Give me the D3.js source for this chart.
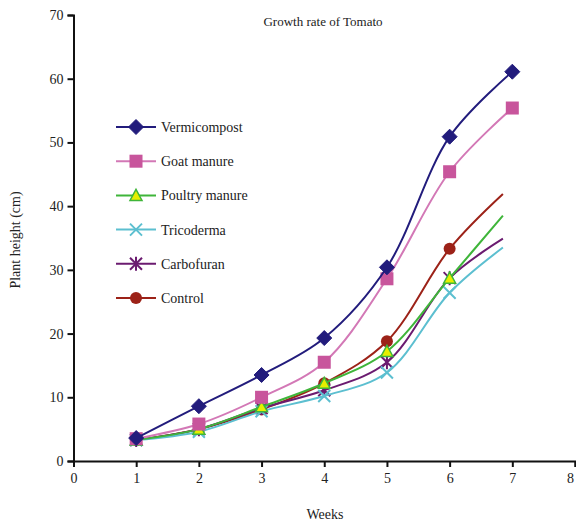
<!DOCTYPE html>
<html lang="en">
<head>
<meta charset="utf-8">
<title>Growth rate of Tomato</title>
<script src="https://d3js.org/d3.v7.min.js"></script>
<style>
  body { margin: 0; background: #fff; }
  text { font-family: "Liberation Serif", "DejaVu Serif", serif; fill: #222; }
</style>
</head>
<body>
<script>
// data
let weeks = [1, 2, 3, 4, 5, 6, 7];
let weeksShort = [1, 2, 3, 4, 5, 6, 6.85]; // last segment ends short of week 7, no marker
let vermicompost = [3.6, 8.6, 13.5, 19.3, 30.4, 50.9, 61.1];
let goatManure = [3.5, 5.8, 10.0, 15.5, 28.6, 45.4, 55.4];
let poultryManure = [3.3, 5.0, 8.5, 12.2, 17.2, 28.7, 38.5];
let tricoderma = [3.3, 4.6, 7.8, 10.2, 13.9, 26.4, 33.5];
let carbofuran = [3.3, 5.0, 8.3, 11.1, 15.5, 28.7, 34.9];
let control = [3.3, 5.0, 8.1, 12.2, 18.8, 33.3, 41.9];
let seriesNames = ["Vermicompost", "Goat manure", "Poultry manure", "Tricoderma", "Carbofuran", "Control"];
let xTicks = [0, 1, 2, 3, 4, 5, 6, 7, 8];
let yTicks = [0, 10, 20, 30, 40, 50, 60, 70];

let w = 576, h = 525;
let margin = {left: 73.5, right: 1, top: 15, bottom: 64};

let series = [
  {name: seriesNames[0], x: weeks, y: vermicompost, line: "#221c7c", fill: "#221c7c", shape: "diamond", last: true},
  {name: seriesNames[1], x: weeks, y: goatManure, line: "#d378b6", fill: "#c8559c", shape: "square", last: true},
  {name: seriesNames[2], x: weeksShort, y: poultryManure, line: "#3fb53a", fill: "#e6ef00", shape: "triangle", last: false},
  {name: seriesNames[3], x: weeksShort, y: tricoderma, line: "#5cbfd0", fill: "#5cbfd0", shape: "cross", last: false},
  {name: seriesNames[4], x: weeksShort, y: carbofuran, line: "#6b1b70", fill: "#6b1b70", shape: "star", last: false},
  {name: seriesNames[5], x: weeksShort, y: control, line: "#9c2218", fill: "#9c2218", shape: "circle", last: false}
];

let xScale = d3.scaleLinear().domain([0, 8]).range([margin.left, w - margin.right]);
let yScale = d3.scaleLinear().domain([0, 70]).range([h - margin.bottom, margin.top]);

let svg = d3.select("body").append("svg")
  .attr("width", w)
  .attr("height", h);

// axes
let xAxis = svg.append("g")
  .attr("transform", "translate(0," + yScale(0) + ")")
  .call(d3.axisBottom(xScale).tickValues(xTicks).tickSize(6).tickPadding(6));
let yAxis = svg.append("g")
  .attr("transform", "translate(" + xScale(0) + ",0)")
  .call(d3.axisLeft(yScale).tickValues(yTicks).tickSize(6).tickPadding(4));

[xAxis, yAxis].forEach(function(a) {
  a.select(".domain").attr("stroke", "#111").attr("stroke-width", 2);
  a.selectAll(".tick line").attr("stroke", "#111").attr("stroke-width", 2);
  a.selectAll(".tick text")
    .style("font-family", '"Liberation Serif", serif')
    .style("font-size", "14px")
    .attr("fill", "#333");
});
// last x label sits just inside the edge
xAxis.selectAll(".tick text").filter(d => d === 8).attr("dx", "-5px");

// marker drawing
function drawMarker(g, shape, s) {
  if (shape === "diamond") {
    g.append("path").attr("d", "M0,-7.5L7.5,0L0,7.5L-7.5,0Z")
      .attr("fill", s.fill).attr("stroke", s.fill);
  } else if (shape === "square") {
    g.append("rect").attr("x", -6.5).attr("y", -6.5).attr("width", 13).attr("height", 13)
      .attr("fill", s.fill);
  } else if (shape === "triangle") {
    g.append("path").attr("d", "M0,-6L6,5L-6,5Z")
      .attr("fill", s.fill).attr("stroke", s.line).attr("stroke-width", 1.5);
  } else if (shape === "cross") {
    g.append("path").attr("d", "M-6,-6L6,6M-6,6L6,-6")
      .attr("stroke", s.fill).attr("stroke-width", 2);
  } else if (shape === "star") {
    g.append("path").attr("d", "M-6,-6L6,6M-6,6L6,-6M0,-7L0,7")
      .attr("stroke", s.fill).attr("stroke-width", 2);
  } else {
    g.append("circle").attr("r", 6).attr("fill", s.fill);
  }
}

let line = d3.line()
  .x(d => xScale(d[0]))
  .y(d => yScale(d[1]))
  .curve(d3.curveCatmullRom.alpha(0.5));

// draw series in reverse so vermicompost is on top
series.slice().reverse().forEach(function(s) {
  let pts = s.x.map((x, i) => [x, s.y[i]]);
  svg.append("path")
    .datum(pts)
    .attr("d", line)
    .attr("fill", "none")
    .attr("stroke", s.line)
    .attr("stroke-width", 2);

  let markPts = s.last ? pts : pts.slice(0, pts.length - 1);
  markPts.forEach(function(p) {
    let g = svg.append("g").attr("transform", "translate(" + xScale(p[0]) + "," + yScale(p[1]) + ")");
    drawMarker(g, s.shape, s);
  });
});

// legend
let legend = svg.append("g").attr("transform", "translate(116,127)");
series.forEach(function(s, i) {
  let row = legend.append("g").attr("transform", "translate(0," + (i * 34.2) + ")");
  row.append("line").attr("x1", 0).attr("x2", 40).attr("y1", 0).attr("y2", 0)
    .attr("stroke", s.line).attr("stroke-width", 2);
  drawMarker(row.append("g").attr("transform", "translate(20,0)"), s.shape, s);
  row.append("text").attr("x", 45).attr("y", 5)
    .style("font-size", "14px")
    .text(s.name);
});

// title and axis labels
svg.append("text")
  .attr("x", 323).attr("y", 26)
  .attr("text-anchor", "middle")
  .style("font-size", "13px")
  .text("Growth rate of Tomato");

svg.append("text")
  .attr("x", 325).attr("y", 519)
  .attr("text-anchor", "middle")
  .style("font-size", "14px")
  .text("Weeks");

svg.append("text")
  .attr("transform", "translate(20,240) rotate(-90)")
  .attr("text-anchor", "middle")
  .style("font-size", "14px")
  .text("Plant height (cm)");
</script>
</body>
</html>
